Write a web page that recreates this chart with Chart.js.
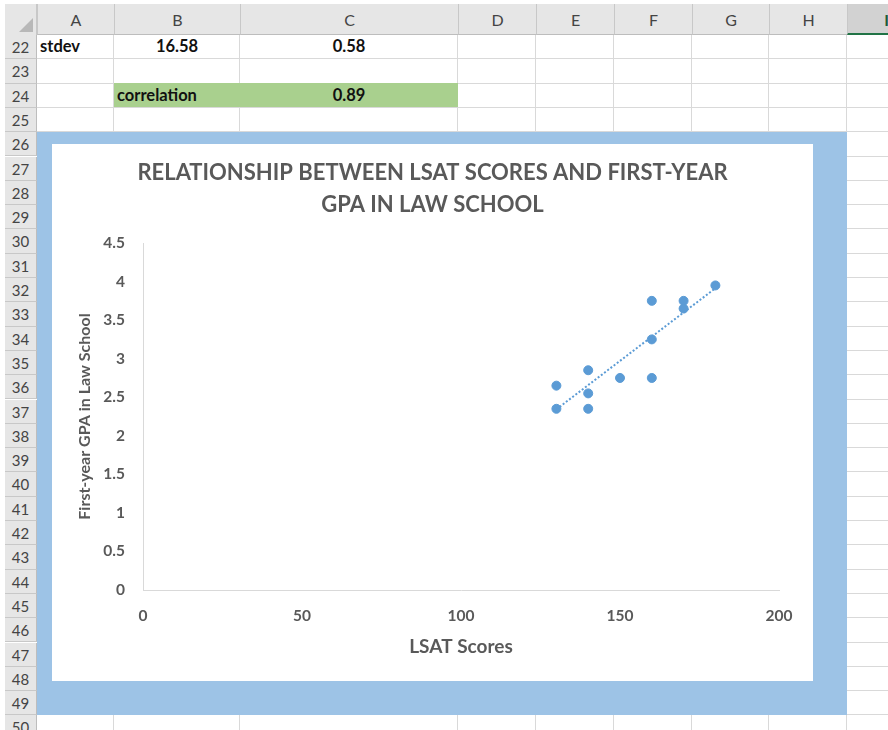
<!DOCTYPE html>
<html>
<head>
<meta charset="utf-8">
<script src="https://cdn.jsdelivr.net/npm/chart.js@4.4.1/dist/chart.umd.min.js"></script>
<style>
  body { margin: 0; width: 888px; height: 730px; overflow: hidden; position: relative; background: #fff; font-family: "Lato", "Liberation Sans", sans-serif; }
  .abs { position: absolute; box-sizing: border-box; }
  .hdr { background: #e6e6e6; color: #444; font-size: 16px; text-align: center; }
  .cell { font-weight: bold; font-size: 16.5px; color: #111; white-space: nowrap; }
  #frame { left: 37px; top: 132px; width: 810px; height: 583px; background: #9dc3e6; }
  #box { left: 15px; top: 12px; width: 761px; height: 537px; background: #fff; }
</style>
</head>
<body>
<div id="sheet"></div>
<div id="frame" class="abs"><div id="box" class="abs"><canvas id="lsat_chart" width="761" height="537"></canvas></div></div>
<script>
// LSAT score vs first-year GPA, one entry per student
const lsatScores = [130, 130, 140, 140, 140, 150, 160, 160, 160, 170, 170, 180];
const gpaScores  = [2.65, 2.35, 2.85, 2.55, 2.35, 2.75, 3.75, 3.25, 2.75, 3.75, 3.65, 3.95];

// summary cells above the chart: [column, row, text, align]
const summaryCells = [
  ["A", 22, "stdev", "left"],
  ["B", 22, "16.58", "center"],
  ["C", 22, "0.58", "center"],
  ["B", 24, "correlation", "left"],
  ["C", 24, "0.89", "center"]
];

const colNames = ["A", "B", "C", "D", "E", "F", "G", "H", "I"];
const colEdges = [37, 114, 240, 458, 536, 614, 692, 769, 847, 925];
const firstRow = 22, lastRow = 50;
const rowH = 24.3, headTop = 4, headBottom = 35;

const sheet = document.getElementById("sheet");
function box(x, y, w, h, cls, css, txt) {
  let d = document.createElement("div");
  d.className = "abs " + (cls || "");
  d.style.left = x + "px"; d.style.top = y + "px";
  d.style.width = w + "px"; d.style.height = h + "px";
  if (css) Object.assign(d.style, css);
  if (txt != null) d.textContent = txt;
  sheet.appendChild(d);
  return d;
}
function rowTop(r) { return headBottom + (r - firstRow) * rowH; }

// gridlines
for (let r = firstRow; r <= lastRow + 1; r++) {
  box(37, rowTop(r) - 1, 851, 1, "", {background: "#d9d9d9"});
}
for (let i = 1; i < colEdges.length - 1; i++) {
  box(colEdges[i] - 1, headBottom, 1, 700, "", {background: "#d9d9d9"});
}

// fill behind the correlation cells
box(colEdges[1], rowTop(24) - 1, colEdges[3] - colEdges[1], rowH, "", {background: "#a9d08e"});

// column headers
box(5, headTop, 883, headBottom - headTop, "hdr", {borderBottom: "1px solid #bdbdbd"});
colNames.forEach((n, i) => {
  let sel = n === "I";
  box(colEdges[i], headTop, colEdges[i + 1] - colEdges[i], headBottom - headTop, "hdr", {
    lineHeight: (headBottom - headTop) + "px",
    borderLeft: "1px solid #c8c8c8",
    background: sel ? "#d2d2d2" : "#e6e6e6",
    borderBottom: sel ? "2px solid #217346" : "1px solid #bdbdbd",
    color: sel ? "#1e5c38" : "#444",
    fontWeight: sel ? "bold" : "normal"
  }, n);
});

// select-all corner
box(5, headTop, 32, headBottom - headTop, "hdr", {borderRight: "1px solid #c8c8c8"});
box(19, 18, 0, 0, "", {borderLeft: "14px solid transparent", borderBottom: "14px solid #b8b8b8"});

// row headers
for (let r = firstRow; r <= lastRow; r++) {
  box(5, rowTop(r), 32, rowH, "hdr", {
    lineHeight: rowH + "px", fontSize: "15px",
    borderBottom: "1px solid #c8c8c8", borderRight: "1px solid #bdbdbd"
  }, String(r));
}

// cell values
summaryCells.forEach(([c, r, t, al]) => {
  let i = colNames.indexOf(c);
  box(colEdges[i] + 3, rowTop(r), colEdges[i + 1] - colEdges[i] - 6, rowH - 1, "cell", {
    textAlign: al, lineHeight: (rowH - 1) + "px"
  }, t);
});

// least squares trendline through the points
const n = lsatScores.length;
const mx = lsatScores.reduce((a, b) => a + b, 0) / n;
const my = gpaScores.reduce((a, b) => a + b, 0) / n;
let sxy = 0, sxx = 0;
for (let i = 0; i < n; i++) {
  sxy += (lsatScores[i] - mx) * (gpaScores[i] - my);
  sxx += (lsatScores[i] - mx) ** 2;
}
const slope = sxy / sxx, intercept = my - slope * mx;
const xMin = Math.min(...lsatScores), xMax = Math.max(...lsatScores);

const grey = "#595959";
const blue = "#5b9bd5";
const fam = "Lato";

let ctx = document.getElementById("lsat_chart");
let lsat_chart = new Chart(ctx, {
  data: {
    datasets: [
      {
        type: "line",
        data: [{x: xMin, y: intercept + slope * xMin}, {x: xMax, y: intercept + slope * xMax}],
        borderColor: blue,
        borderWidth: 2,
        borderDash: [2, 2],
        pointRadius: 0,
        fill: false
      },
      {
        type: "scatter",
        data: lsatScores.map((x, i) => ({x: x, y: gpaScores[i]})),
        backgroundColor: blue,
        borderColor: blue,
        pointRadius: 4.5,
        pointHoverRadius: 4.5
      }
    ]
  },
  options: {
    responsive: false,
    animation: false,
    layout: {padding: 0},
    plugins: {
      legend: {display: false},
      tooltip: {enabled: false},
      title: {
        display: true,
        text: ["RELATIONSHIP BETWEEN LSAT SCORES AND FIRST-YEAR", "GPA IN LAW SCHOOL"],
        color: grey,
        font: {family: fam, size: 22, weight: "bold", lineHeight: 1.455},
        padding: {top: 13, bottom: 22}
      }
    },
    scales: {
      x: {
        type: "linear",
        min: 0, max: 200,
        afterFit: s => { s.height = 91; },
        grid: {display: false, drawTicks: false},
        border: {color: "#d9d9d9", width: 1},
        ticks: {stepSize: 50, color: grey, padding: 17, font: {family: fam, size: 15.5, weight: "bold"}},
        title: {display: true, text: "LSAT Scores", color: grey, padding: {top: 0, bottom: 23},
                font: {family: fam, size: 19, weight: "bold"}}
      },
      y: {
        type: "linear",
        min: 0, max: 4.5,
        afterFit: s => { s.width = 91; },
        grid: {display: false, drawTicks: false},
        border: {color: "#d9d9d9", width: 1},
        ticks: {
          stepSize: 0.5, color: grey, padding: 18,
          font: {family: fam, size: 15.5, weight: "bold"},
          callback: v => String(+v.toFixed(1))
        },
        title: {display: true, text: "First-year GPA in Law School", color: grey, padding: {top: 23, bottom: 0},
                font: {family: fam, size: 16, weight: "bold"}}
      },
      // empty strip on the right so the plot stops short of the edge
      yRight: {
        type: "linear",
        position: "right",
        afterFit: s => { s.width = 34; },
        grid: {display: false, drawTicks: false},
        border: {display: false},
        ticks: {display: false}
      }
    }
  }
});
</script>
</body>
</html>
